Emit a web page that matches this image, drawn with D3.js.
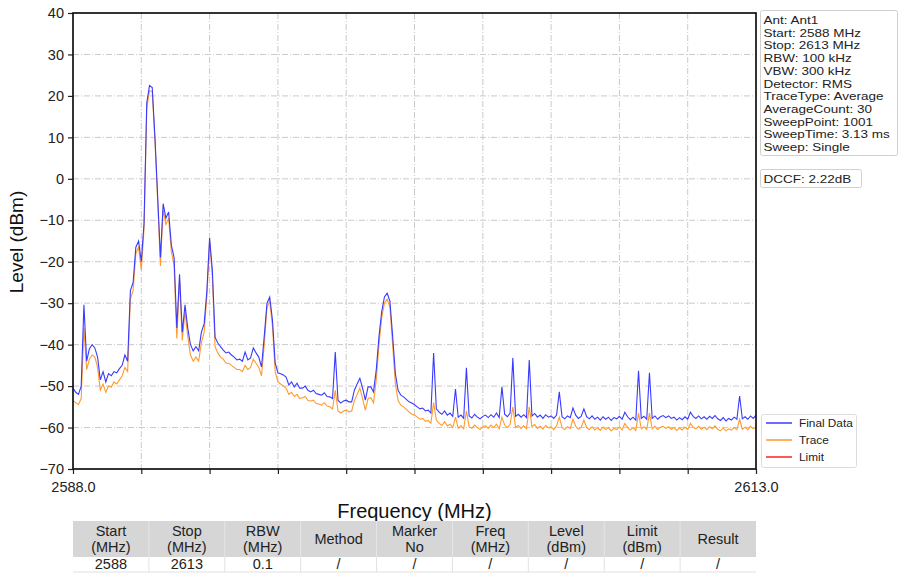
<!DOCTYPE html>
<html><head><meta charset="utf-8">
<script src="https://cdn.jsdelivr.net/npm/d3@7"></script>
<style>
body{margin:0;background:#fff;font-family:"Liberation Sans",Arial,sans-serif;}
svg{display:block;}
</style></head>
<body>
<svg id="chart" width="899" height="575"></svg>
<script>
// ---- data ----
const sweepStart = 2588.0;   // MHz
const sweepStep = 0.1;       // MHz per sample
const finalData = [
-50.5,-51.5,-52,-50,-30.4,-44,-41,-40,-40.8,-43,
-48.5,-46.5,-49,-47,-47.5,-46.5,-46.8,-45.8,-45,-42.5,
-44,-27,-25,-16.5,-15,-20,-10.7,18.3,22.5,22.0,
10,-4.4,-19,-6,-9.5,-8,-16,-19,-36,-23,
-37,-30.4,-36,-40,-41.5,-40.5,-41.5,-37,-35,-27,
-14.3,-22,-38.2,-39.6,-40.5,-41.3,-42,-41.8,-42.5,-43,
-43.7,-43.5,-44,-41.8,-43.7,-43.2,-40.8,-42,-43,-45.4,
-38,-30,-28.5,-34,-44.4,-46.8,-47,-47.3,-47.8,-49.7,
-49,-50.2,-49.3,-50.5,-50.5,-50,-51,-51.4,-51,-51.8,
-52,-52.2,-51.6,-52.5,-52.6,-53,-41.8,-53.4,-54.1,-53.6,
-53.4,-53.8,-53.8,-51,-49.5,-48.1,-50.5,-53.4,-50.2,-50.2,
-51.4,-46.1,-38,-32,-28.5,-27.6,-29.5,-38,-47,-51,
-52.2,-52.6,-53.2,-53.8,-54.1,-54.5,-55,-55.5,-55.3,-56,
-55.8,-56.5,-42,-55.5,-56.3,-56.8,-56,-57,-56.5,-57.3,
-50.7,-57.5,-57,-57.8,-45.6,-57.2,-57.7,-56.8,-57.5,-57.9,
-57.3,-57,-57.6,-56.9,-57.5,-56.5,-57.6,-50.2,-56.8,-57.4,
-56.5,-43.2,-57.3,-56.8,-57.5,-56.9,-57.6,-43.7,-57.2,-56.6,
-57.5,-57,-57.8,-56.9,-57.5,-57.2,-57.8,-57,-51.4,-57.4,
-57.9,-57.2,-57.6,-55.3,-57,-57.8,-57.3,-55.5,-57.4,-57.9,
-57.2,-58,-57.5,-58.2,-57.4,-58,-57.5,-58.3,-57.6,-57.9,
-57.3,-58,-56.3,-57.4,-58.1,-57.5,-58.2,-46.3,-57.8,-57.3,
-58,-46.8,-57.8,-57.2,-58,-57.4,-57.1,-57.6,-57.2,-57.8,
-57.5,-58.2,-57.6,-58.1,-57.4,-58,-56.3,-57.3,-57.8,-57.2,
-57.9,-57.4,-58,-57.3,-57.8,-57.1,-57.9,-58.3,-57.6,-58.4,
-57.8,-58.2,-57.5,-58,-52.4,-57.9,-57.4,-58,-57.2,-57.8,
-57
];
const traceData = [
-53.5,-54,-54.5,-53,-36,-46,-43.5,-42.5,-43,-45.5,
-51,-49.5,-51.5,-50,-50.3,-49,-49.5,-48.5,-47.5,-45.5,
-46.5,-29,-27,-18,-16.5,-22,-12,17,21.3,21,
9,-5.5,-21,-7.5,-11,-9.5,-17.5,-21,-38.5,-24.5,
-39,-32,-38,-42.5,-44,-43,-44,-39.5,-37,-28.5,
-15,-23.5,-40.5,-42,-43,-43.5,-44.5,-44.5,-45,-45.5,
-46,-46,-46.5,-45,-46,-45.5,-43.5,-44.5,-45.5,-47.5,
-40,-31,-29.5,-35.5,-46.5,-49,-49.5,-50,-50.5,-52,
-51.5,-52.5,-52,-53,-52.8,-52.5,-53.5,-53.6,-53.4,-54.2,
-54.3,-54.6,-54,-54.8,-55,-55.5,-51,-56,-56.5,-56,
-55.8,-56.2,-56,-53.5,-52,-50.5,-53,-55.8,-53,-52.8,
-54,-48.5,-40,-33.5,-30,-29,-31,-40,-49.5,-53.5,
-54.6,-55,-55.6,-56.2,-56.8,-57,-57.5,-58,-57.8,-58.5,
-58.3,-59,-54,-58.2,-59,-59.5,-58.6,-59.6,-59.2,-60,
-57.5,-60.2,-59.5,-60.3,-56,-59.8,-60.2,-59.4,-60,-60.5,
-59.8,-59.6,-60.2,-59.4,-60,-59.2,-60.3,-57.5,-59.4,-60,
-59.2,-55,-60,-59.5,-60.2,-59.6,-60.3,-55,-59.8,-59.3,
-60.2,-59.7,-60.4,-59.5,-60.1,-59.8,-60.5,-59.6,-57.5,-60,
-60.5,-59.8,-60.2,-58,-59.7,-60.4,-59.9,-58.2,-60,-60.5,
-59.8,-60.6,-60,-60.7,-59.9,-60.5,-60,-60.8,-60.2,-60.5,
-59.8,-60.6,-59,-60,-60.6,-60,-60.7,-56.5,-60.3,-59.8,
-60.5,-56.5,-60.3,-59.7,-60.5,-59.9,-59.7,-60.2,-59.8,-60.4,
-60,-60.7,-60.1,-60.6,-59.9,-60.5,-59,-59.9,-60.3,-59.7,
-60.4,-59.9,-60.5,-59.8,-60.3,-59.6,-60.4,-60.8,-60.1,-60.8,
-60.3,-60.6,-60,-60.5,-58,-60.4,-59.9,-60.5,-59.7,-60.3,
-59.8
];
const limitData = [];
const yTicks = [40,30,20,10,0,-10,-20,-30,-40,-50,-60,-70];
const xTicks = [2588,2590.5,2593,2595.5,2598,2600.5,2603,2605.5,2608,2610.5,2613];
const xTickLabels = ["2588.0","","","","","","","","","","2613.0"];
const infoLines = ["Ant: Ant1","Start: 2588 MHz","Stop: 2613 MHz","RBW: 100 kHz","VBW: 300 kHz",
  "Detector: RMS","TraceType: Average","AverageCount: 30","SweepPoint: 1001","SweepTime: 3.13 ms","Sweep: Single"];
const dccfText = "DCCF: 2.22dB";
const legendNames = ["Final Data","Trace","Limit"];
const legendColors = ["#3a3aff","#ff9a2e","#ff2020"];
const tableHeaders = [["Start","(MHz)"],["Stop","(MHz)"],["RBW","(MHz)"],["Method"],["Marker","No"],
  ["Freq","(MHz)"],["Level","(dBm)"],["Limit","(dBm)"],["Result"]];
const tableRow = ["2588","2613","0.1","/","/","/","/","/","/"];

// ---- layout ----
const svg = d3.select("#chart");
const L = 73, R = 756, T = 13, B = 469;
const x = d3.scaleLinear().domain([2588, 2613]).range([L, R]);
const y = d3.scaleLinear().domain([-70, 40]).range([B, T]);
const font = '"Liberation Sans",Arial,sans-serif';

// grid
const grid = svg.append("g");
grid.selectAll("line.v").data(xTicks.slice(1, -1)).enter().append("line")
  .attr("x1", d => x(d)).attr("x2", d => x(d)).attr("y1", T).attr("y2", B)
  .attr("stroke", "#cacaca").attr("stroke-width", 1).attr("stroke-dasharray", "6,2,1,2");
grid.selectAll("line.h").data(yTicks.slice(1, -1)).enter().append("line")
  .attr("x1", L).attr("x2", R).attr("y1", d => y(d)).attr("y2", d => y(d))
  .attr("stroke", "#cacaca").attr("stroke-width", 1).attr("stroke-dasharray", "6,2,1,2");

// lines
const line = d3.line().x((d, i) => x(sweepStart + i * sweepStep)).y(d => y(d));
svg.append("clipPath").attr("id", "clip").append("rect")
  .attr("x", L).attr("y", T).attr("width", R - L).attr("height", B - T);
const plot = svg.append("g").attr("clip-path", "url(#clip)");
plot.append("path").datum(traceData).attr("d", line).attr("fill", "none")
  .attr("stroke", legendColors[1]).attr("stroke-width", 1.1);
plot.append("path").datum(finalData).attr("d", line).attr("fill", "none")
  .attr("stroke", legendColors[0]).attr("stroke-width", 1.1);
if (limitData.length) plot.append("path").datum(limitData).attr("d", line).attr("fill", "none")
  .attr("stroke", legendColors[2]).attr("stroke-width", 1.1);

// axes
const yAxis = svg.append("g").attr("transform", `translate(${L},0)`)
  .call(d3.axisLeft(y).tickValues(yTicks).tickSize(5).tickPadding(4).tickFormat(d3.format("d")));
const xAxis = svg.append("g").attr("transform", `translate(0,${B})`)
  .call(d3.axisBottom(x).tickValues(xTicks).tickSize(5).tickPadding(8).tickFormat((d, i) => xTickLabels[i]));
[yAxis, xAxis].forEach(a => {
  a.select(".domain").remove();
  a.selectAll("line").attr("stroke", "#222").attr("stroke-width", 1.2);
  a.selectAll("text").attr("font-family", font).attr("font-size", 14.5).attr("fill", "#222");
});
// frame
svg.append("rect").attr("x", L).attr("y", T).attr("width", R - L).attr("height", B - T)
  .attr("fill", "none").attr("stroke", "#111").attr("stroke-width", 1.7);

// axis titles
svg.append("text").attr("transform", `translate(23,242) rotate(-90)`)
  .attr("text-anchor", "middle").attr("font-family", font).attr("font-size", 19).attr("fill", "#111")
  .text("Level (dBm)");
svg.append("text").attr("x", (L + R) / 2).attr("y", 518).attr("text-anchor", "middle")
  .attr("font-family", font).attr("font-size", 20).attr("fill", "#111").text("Frequency (MHz)");

// info box (text horizontally widened to match the reference's proportions)
const sx = 1.25;
svg.append("rect").attr("x", 760.5).attr("y", 10.5).attr("width", 137).attr("height", 145).attr("rx", 2)
  .attr("fill", "#fff").attr("stroke", "#d0d0d0");
svg.append("g").selectAll("text").data(infoLines).enter().append("text")
  .attr("transform", (d, i) => `translate(763.5,${24 + i * 12.7}) scale(${sx},1)`)
  .attr("font-family", font).attr("font-size", 10.8).attr("fill", "#222").text(d => d);
svg.append("rect").attr("x", 760.5).attr("y", 169.5).attr("width", 101).attr("height", 18).attr("rx", 2)
  .attr("fill", "#fff").attr("stroke", "#d0d0d0");
svg.append("text").attr("transform", `translate(763.5,183) scale(${sx},1)`)
  .attr("font-family", font).attr("font-size", 10.8).attr("fill", "#222").text(dccfText);

// legend
svg.append("rect").attr("x", 761.5).attr("y", 414.5).attr("width", 95).attr("height", 53).attr("rx", 2)
  .attr("fill", "#fff").attr("stroke", "#dcdcdc");
const lg = svg.append("g").selectAll("g").data(legendNames).enter().append("g")
  .attr("transform", (d, i) => `translate(0,${423 + i * 17})`);
lg.append("line").attr("x1", 766).attr("x2", 792).attr("y1", 0).attr("y2", 0)
  .attr("stroke", (d, i) => legendColors[i]).attr("stroke-width", 1.5);
lg.append("text").attr("x", 799).attr("y", 4).attr("font-family", font).attr("font-size", 11.8)
  .attr("fill", "#222").text(d => d);

// table
const colW = (R - L) / tableHeaders.length;
const tb = svg.append("g");
tb.append("rect").attr("x", L).attr("y", 521).attr("width", R - L).attr("height", 36).attr("fill", "#d6d6d6");
tableHeaders.forEach((h, i) => {
  const cx = L + colW * (i + 0.5);
  if (i > 0) {
    tb.append("line").attr("x1", L + colW * i).attr("x2", L + colW * i).attr("y1", 521).attr("y2", 557)
      .attr("stroke", "#e6e6e6");
    tb.append("line").attr("x1", L + colW * i).attr("x2", L + colW * i).attr("y1", 557).attr("y2", 572)
      .attr("stroke", "#e2e2e2");
  }
  h.forEach((t, j) => {
    const yy = h.length === 1 ? 544 : 536 + j * 16;
    tb.append("text").attr("x", cx).attr("y", yy).attr("text-anchor", "middle")
      .attr("font-family", font).attr("font-size", 14.5).attr("fill", "#222").text(t);
  });
  tb.append("text").attr("x", cx).attr("y", 569).attr("text-anchor", "middle")
    .attr("font-family", font).attr("font-size", 14.5).attr("fill", "#222").text(tableRow[i]);
});
tb.append("line").attr("x1", L).attr("x2", R).attr("y1", 572).attr("y2", 572).attr("stroke", "#e0e0e0");
</script>
</body></html>
